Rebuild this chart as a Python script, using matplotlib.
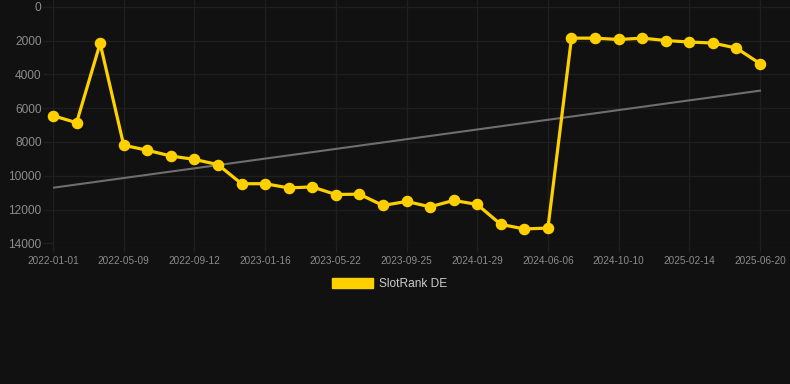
import matplotlib
matplotlib.use("Agg")
import matplotlib.pyplot as plt
from matplotlib.patches import Patch

plt.rcParams['font.family'] = ['Liberation Sans', 'DejaVu Sans']

# Data
rank_values = [6440, 6860, 2160, 8190, 8490, 8830, 9030, 9340, 10470, 10470,
               10720, 10660, 11110, 11090, 11760, 11520, 11840, 11460, 11700, 12880,
               13150, 13100, 1850, 1850, 1930, 1850, 1990, 2080, 2140, 2440, 3360]
tick_labels = ["2022-01-01", "2022-05-09", "2022-09-12", "2023-01-16", "2023-05-22",
               "2023-09-25", "2024-01-29", "2024-06-06", "2024-10-10", "2025-02-14",
               "2025-06-20"]
tick_step = 3
trend_values = [10710, 4960]
y_ticks = [0, 2000, 4000, 6000, 8000, 10000, 12000, 14000]
series_name = "SlotRank DE"

BG = '#111111'
GRID = '#1f1f1f'
YELLOW = '#FFD000'

W, H = 790, 384
fig = plt.figure(figsize=(W / 100, H / 100), dpi=100, facecolor=BG)
ax = fig.add_axes([53 / W, 1 - 243.3 / H, (W - 53) / W, 243.3 / H], facecolor=BG)

x = list(range(len(rank_values)))
ax.plot([x[0], x[-1]], trend_values, color='#6e6e6e', lw=1.5, zorder=2)
ax.plot(x, rank_values, color=YELLOW, lw=2.3, marker='o', markersize=7.3,
        markerfacecolor=YELLOW, markeredgecolor=YELLOW, zorder=3, clip_on=False)

ax.set_ylim(14000, -409)
ax.set_xlim(0, 30 + 30 / 23.57)
ax.set_yticks(y_ticks)
ax.set_yticklabels([str(v) for v in y_ticks])
ax.set_xticks(list(range(0, len(rank_values), tick_step)))
ax.set_xticklabels(tick_labels)

ax.grid(True, color=GRID, lw=1)
ax.set_axisbelow(True)
for s in ax.spines.values():
    s.set_visible(False)

ax.tick_params(axis='y', colors=GRID, length=7.2, width=1, pad=1,
               labelcolor='#8c8c8c', labelsize=8.6)
ax.tick_params(axis='x', colors=GRID, length=6.5, width=1, pad=3,
               labelcolor='#8c8c8c', labelsize=7.2)

handle = Patch(facecolor=YELLOW, edgecolor=YELLOW, label=series_name)
leg = fig.legend(handles=[handle], loc='center', bbox_to_anchor=(0.493, 1 - 284 / H),
                 frameon=False, fontsize=8.6, handlelength=3.4, handleheight=0.9,
                 handletextpad=0.5)
for t in leg.get_texts():
    t.set_color('#cccccc')

fig.savefig('out.png', dpi=100, facecolor=BG)
